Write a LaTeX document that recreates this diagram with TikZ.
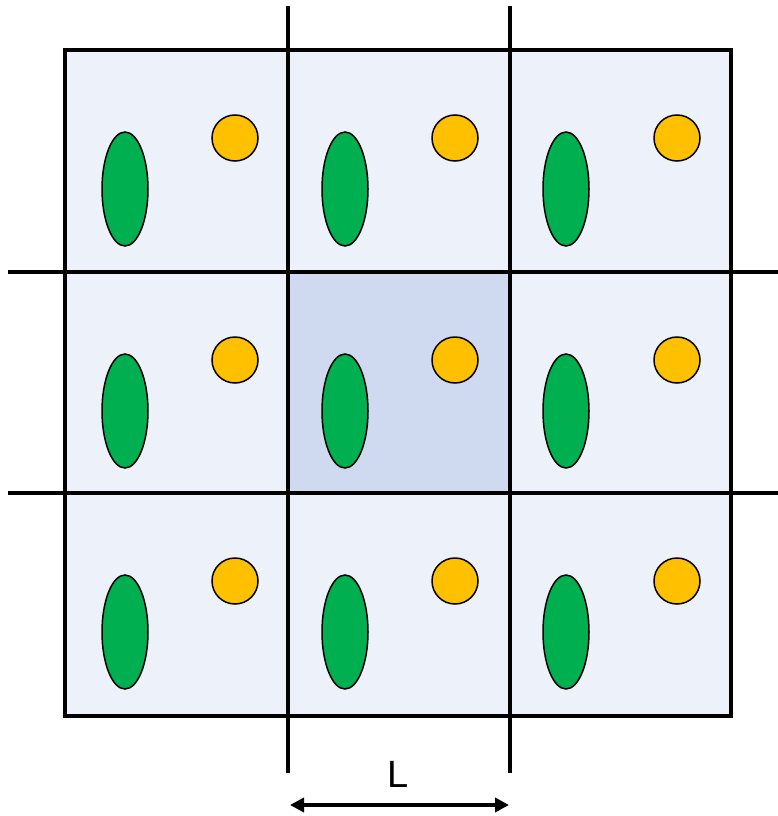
\documentclass[tikz,border=0pt]{standalone}
\usepackage{fontspec}
\setmainfont{Liberation Sans}
\usetikzlibrary{arrows.meta}
\definecolor{cellfill}{HTML}{EDF1F9}
\definecolor{midfill}{HTML}{CFDAF0}
\definecolor{grn}{HTML}{00B050}
\definecolor{org}{HTML}{FFC000}
\tikzset{
  gridline/.style={line width=3.6pt, black},
  grain/.style={fill=grn, draw=black, line width=1.5pt},
  dot/.style={fill=org, draw=black, line width=1.5pt},
  dimarrow/.style={line width=3.6pt, {Triangle[length=14pt,width=14pt]}-{Triangle[length=14pt,width=14pt]}},
}
\begin{document}
\begin{tikzpicture}[x=1pt,y=-1pt]
\useasboundingbox (0,0) rectangle (778,816);
% cells
\fill[cellfill] (65,50) rectangle (731,716);
\fill[midfill] (288,272) rectangle (510,493);
% particles
\foreach \cx/\ex/\ox in {65/60/170, 288/57/167, 510/56/167}{
  \foreach \cy in {50, 272, 493}{
    \draw[grain] (\cx+\ex,\cy+139) ellipse [x radius=23, y radius=57];
    \draw[dot] (\cx+\ox,\cy+88) circle [radius=23];
  }
}
% outer frame
\draw[gridline] (65,50) rectangle (731,716);
% grid lines
\coordinate (v1t) at (288,6);  \coordinate (v1b) at (288,773);
\coordinate (v2t) at (510,6);  \coordinate (v2b) at (510,773);
\coordinate (h1l) at (8,272);  \coordinate (h1r) at (778,272);
\coordinate (h2l) at (8,493);  \coordinate (h2r) at (778,493);
\draw[gridline] (v1t) -- (v1b);
\draw[gridline] (v2t) -- (v2b);
\draw[gridline] (h1l) -- (h1r);
\draw[gridline] (h2l) -- (h2r);
% dimension
\coordinate (aL) at (290,805);
\coordinate (aR) at (509,805);
\draw[dimarrow] (aL) -- (aR);
\node[font=\fontsize{38}{40}\selectfont, inner sep=0pt] (lab) at (398,774) {L};
\end{tikzpicture}
\end{document}
